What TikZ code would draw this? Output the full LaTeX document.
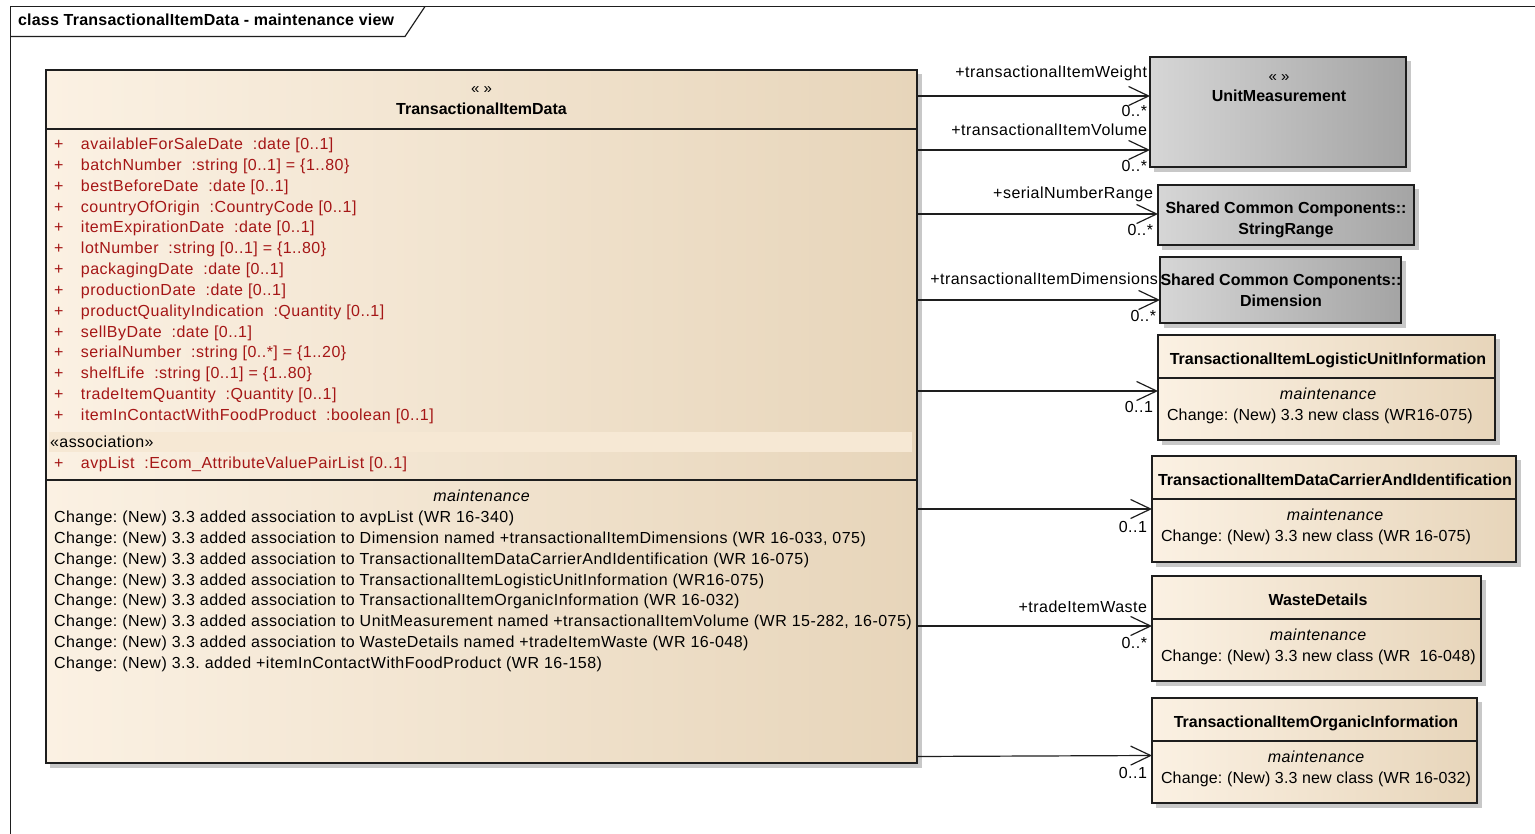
\documentclass[tikz,border=0pt]{standalone}
\usepackage{fontspec}
\setmainfont{Liberation Sans}
\newfontfamily\regf{Liberation Sans}[LetterSpace=3]
\newfontfamily\boxf{Liberation Sans}[LetterSpace=1]
\newfontfamily\titf{Liberation Sans}[LetterSpace=1.5]
\usetikzlibrary{arrows.meta}
\frenchspacing
\definecolor{creamL}{RGB}{251,241,227}
\definecolor{creamR}{RGB}{231,213,186}
\definecolor{grayL}{RGB}{214,214,214}
\definecolor{grayR}{RGB}{164,164,164}
\definecolor{attrred}{RGB}{165,22,22}
\definecolor{band}{RGB}{246,232,212}
\definecolor{shadowc}{RGB}{200,200,200}
\definecolor{edge}{RGB}{30,30,30}
\newcommand{\tfont}{\fontsize{16}{19}\selectfont\regf\frenchspacing}
\newcommand{\bfont}{\fontsize{16}{19}\selectfont\bfseries}
\begin{document}
\begin{tikzpicture}[x=1pt,y=-1pt,
  every node/.style={inner sep=0pt, outer sep=0pt, font=\tfont},
  classbox/.style={draw=edge, line width=1.6pt, left color=creamL, right color=creamR, anchor=north west},
  graybox/.style={draw=edge, line width=1.6pt, left color=grayL, right color=grayR, anchor=north west},
  divider/.style={draw=edge, line width=1.3pt},
  attr/.style={anchor=base west, text=attrred},
  plain/.style={anchor=base west},
  boxtext/.style={anchor=base west, font=\fontsize{16}{19}\selectfont\boxf\frenchspacing},
  title/.style={anchor=base, font=\bfont},
  stereo/.style={anchor=base, font=\fontsize{15}{18}\selectfont},
  ital/.style={anchor=base, font=\tfont\itshape},
  role/.style={anchor=base east},
  assoc/.style={draw=edge, line width=1.2pt, -{Straight Barb[length=20pt,width=19pt,line width=1.2pt]}}
]
\useasboundingbox (0,0) rectangle (1535,834);
% frame
\draw[edge, line width=1.2pt] (1535,6.5) -- (10.5,6.5) -- (10.5,834);
\draw[edge, line width=1.2pt] (10.5,36.5) -- (405,36.5) -- (425,6.5);
\node[anchor=base west, font=\fontsize{16}{19}\selectfont\titf\bfseries] (frametitle) at (18,25.5) {class TransactionalItemData - maintenance view};

% ---------- main class ----------
\fill[shadowc] (50,74) rectangle (922,768);
\node[classbox, minimum width=871, minimum height=693] (main) at (46,70) {};
\draw[divider] (46,129) -- (917,129);
\draw[divider] (46,480) -- (917,480);
\fill[band] (49,432) rectangle (912,452);
\node[stereo] (mainst) at (481.5,94) {« »};
\node[title] (maint) at (481.5,114.5) {TransactionalItemData};
\node[attr] (a1) at (54,149.5) {\makebox[27pt][l]{+}availableForSaleDate\ \ :date [0..1]};
\node[attr] (a2) at (54,170.35) {\makebox[27pt][l]{+}batchNumber\ \ :string [0..1] = \{1..80\}};
\node[attr] (a3) at (54,191.2) {\makebox[27pt][l]{+}bestBeforeDate\ \ :date [0..1]};
\node[attr] (a4) at (54,212.05) {\makebox[27pt][l]{+}countryOfOrigin\ \ :CountryCode [0..1]};
\node[attr] (a5) at (54,232.9) {\makebox[27pt][l]{+}itemExpirationDate\ \ :date [0..1]};
\node[attr] (a6) at (54,253.75) {\makebox[27pt][l]{+}lotNumber\ \ :string [0..1] = \{1..80\}};
\node[attr] (a7) at (54,274.6) {\makebox[27pt][l]{+}packagingDate\ \ :date [0..1]};
\node[attr] (a8) at (54,295.45) {\makebox[27pt][l]{+}productionDate\ \ :date [0..1]};
\node[attr] (a9) at (54,316.3) {\makebox[27pt][l]{+}productQualityIndication\ \ :Quantity [0..1]};
\node[attr] (a10) at (54,337.15) {\makebox[27pt][l]{+}sellByDate\ \ :date [0..1]};
\node[attr] (a11) at (54,358) {\makebox[27pt][l]{+}serialNumber\ \ :string [0..*] = \{1..20\}};
\node[attr] (a12) at (54,378.85) {\makebox[27pt][l]{+}shelfLife\ \ :string [0..1] = \{1..80\}};
\node[attr] (a13) at (54,399.7) {\makebox[27pt][l]{+}tradeItemQuantity\ \ :Quantity [0..1]};
\node[attr] (a14) at (54,420.55) {\makebox[27pt][l]{+}itemInContactWithFoodProduct\ \ :boolean [0..1]};
\node[plain] (assocst) at (50,447.5) {«association»};
\node[attr] (a15) at (54,468.5) {\makebox[27pt][l]{+}avpList\ \ :Ecom\_AttributeValuePairList [0..1]};
\node[ital] (mainm) at (481.5,501) {maintenance};
\node[plain] (c1) at (54,522.5) {Change: (New) 3.3 added association to avpList (WR 16-340)};
\node[plain] (c2) at (54,543.35) {Change: (New) 3.3 added association to Dimension named +transactionalItemDimensions (WR 16-033, 075)};
\node[plain] (c3) at (54,564.2) {Change: (New) 3.3 added association to TransactionalItemDataCarrierAndIdentification (WR 16-075)};
\node[plain] (c4) at (54,585.05) {Change: (New) 3.3 added association to TransactionalItemLogisticUnitInformation (WR16-075)};
\node[plain] (c5) at (54,605.9) {Change: (New) 3.3 added association to TransactionalItemOrganicInformation (WR 16-032)};
\node[plain] (c6) at (54,626.75) {Change: (New) 3.3 added association to UnitMeasurement named +transactionalItemVolume (WR 15-282, 16-075)};
\node[plain] (c7) at (54,647.6) {Change: (New) 3.3 added association to WasteDetails named +tradeItemWaste (WR 16-048)};
\node[plain] (c8) at (54,668.45) {Change: (New) 3.3. added +itemInContactWithFoodProduct (WR 16-158)};

% ---------- UnitMeasurement ----------
\fill[shadowc] (1154,61) rectangle (1411,172);
\node[graybox, minimum width=256, minimum height=110] (um) at (1150,57) {};
\node[stereo] (umst) at (1279,82) {« »};
\node[title] (umt) at (1279,101.5) {UnitMeasurement};

% ---------- StringRange ----------
\fill[shadowc] (1162,189) rectangle (1419,250);
\node[graybox, minimum width=256, minimum height=60] (sr) at (1158,185) {};
\node[title] (srt1) at (1286,213.5) {Shared Common Components::};
\node[title] (srt2) at (1286,234.5) {StringRange};

% ---------- Dimension ----------
\fill[shadowc] (1164,261) rectangle (1406,328);
\node[graybox, minimum width=241, minimum height=66] (dim) at (1160,257) {};
\node[title] (dimt1) at (1281,285.5) {Shared Common Components::};
\node[title] (dimt2) at (1281,306.5) {Dimension};

% ---------- LogisticUnit ----------
\fill[shadowc] (1162,339) rectangle (1500,445);
\node[classbox, minimum width=337, minimum height=105] (lu) at (1158,335) {};
\draw[divider] (1158,378) -- (1495,378);
\node[title] (lut) at (1328,364.5) {TransactionalItemLogisticUnitInformation};
\node[ital] (lum) at (1328,399.5) {maintenance};
\node[boxtext] (luc) at (1167,420.5) {Change: (New) 3.3 new class (WR16-075)};

% ---------- DataCarrier ----------
\fill[shadowc] (1156,460) rectangle (1521,567);
\node[classbox, minimum width=364, minimum height=106] (dc) at (1152,456) {};
\draw[divider] (1152,499) -- (1516,499);
\node[title] (dct) at (1335,485.5) {TransactionalItemDataCarrierAndIdentification};
\node[ital] (dcm) at (1335,520.5) {maintenance};
\node[boxtext] (dcc) at (1161,541.5) {Change: (New) 3.3 new class (WR 16-075)};

% ---------- WasteDetails ----------
\fill[shadowc] (1156,580) rectangle (1486,686);
\node[classbox, minimum width=329, minimum height=105] (wd) at (1152,576) {};
\draw[divider] (1152,619) -- (1481,619);
\node[title] (wdt) at (1318,605.5) {WasteDetails};
\node[ital] (wdm) at (1318,640.5) {maintenance};
\node[boxtext] (wdc) at (1161,661.5) {Change: (New) 3.3 new class (WR\ \ 16-048)};

% ---------- Organic ----------
\fill[shadowc] (1156,702) rectangle (1482,808);
\node[classbox, minimum width=325, minimum height=105] (oi) at (1152,698) {};
\draw[divider] (1152,741) -- (1477,741);
\node[title] (oit) at (1316,727.5) {TransactionalItemOrganicInformation};
\node[ital] (oim) at (1316,762.5) {maintenance};
\node[boxtext] (oic) at (1161,783.5) {Change: (New) 3.3 new class (WR 16-032)};

% ---------- connectors ----------
\draw[assoc] (main.east |- 0,96) -- (um.west |- 0,96);
\draw[assoc] (main.east |- 0,150) -- (um.west |- 0,150);
\draw[assoc] (main.east |- 0,214) -- (sr.west |- 0,214);
\draw[assoc] (main.east |- 0,300) -- (dim.west |- 0,300);
\draw[assoc] (main.east |- 0,391) -- (lu.west |- 0,391);
\draw[assoc] (main.east |- 0,509) -- (dc.west |- 0,509);
\draw[assoc] (main.east |- 0,626) -- (wd.west |- 0,626);
\draw[assoc] (main.east |- 0,756.5) -- (oi.west |- 0,755.5);

\node[role] (r1) at (1147,78) {+transactionalItemWeight};
\node[role] (m1) at (1147,117) {0..*};
\node[role] (r2) at (1147,136) {+transactionalItemVolume};
\node[role] (m2) at (1147,172) {0..*};
\node[role] (r3) at (1153,199) {+serialNumberRange};
\node[role] (m3) at (1153,236) {0..*};
\node[role] (r4) at (1158,285) {+transactionalItemDimensions};
\node[role] (m4) at (1156,322) {0..*};
\node[role] (m5) at (1153,413) {0..1};
\node[role] (m6) at (1147,532) {0..1};
\node[role] (r7) at (1147,612) {+tradeItemWaste};
\node[role] (m7) at (1147,648) {0..*};
\node[role] (m8) at (1147,778) {0..1};
\end{tikzpicture}
\end{document}
